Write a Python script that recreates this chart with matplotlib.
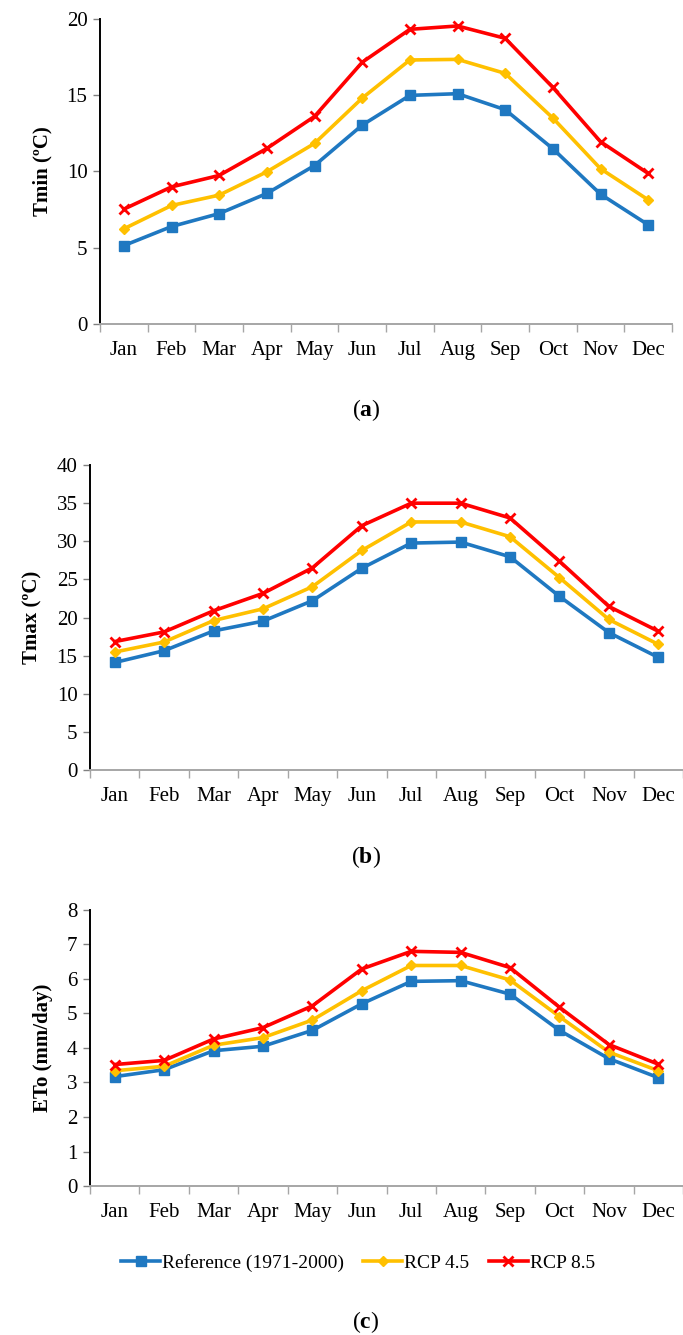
import numpy as np
import matplotlib
matplotlib.use("Agg")
import matplotlib.pyplot as plt
from matplotlib.lines import Line2D

plt.rcParams['font.family'] = ['Liberation Serif', 'DejaVu Serif']
plt.rcParams['mathtext.fontset'] = 'custom'
plt.rcParams['mathtext.rm'] = 'Liberation Serif'
plt.rcParams['mathtext.bf'] = 'Liberation Serif:bold'

months = ["Jan", "Feb", "Mar", "Apr", "May", "Jun",
          "Jul", "Aug", "Sep", "Oct", "Nov", "Dec"]

# Tmin (oC)
tmin_ref = [5.14, 6.39, 7.24, 8.56, 10.39, 13.04, 14.99, 15.10, 14.05, 11.49, 8.51, 6.50]
tmin_45 = [6.24, 7.77, 8.45, 9.98, 11.84, 14.81, 17.31, 17.35, 16.43, 13.50, 10.18, 8.14]
tmin_85 = [7.53, 8.99, 9.74, 11.51, 13.61, 17.16, 19.32, 19.54, 18.73, 15.51, 11.95, 9.87]

# Tmax (oC)
tmax_ref = [14.1, 15.65, 18.24, 19.52, 22.2, 26.46, 29.76, 29.89, 27.96, 22.77, 18.02, 14.77]
tmax_45 = [15.47, 16.79, 19.6, 21.14, 24.04, 28.79, 32.53, 32.53, 30.59, 25.23, 19.74, 16.48]
tmax_85 = [16.84, 18.11, 20.88, 23.16, 26.51, 32.04, 34.99, 34.99, 33.05, 27.38, 21.45, 18.2]

# ETo (mm/day)
eto_ref = [3.17, 3.37, 3.92, 4.05, 4.51, 5.28, 5.93, 5.95, 5.56, 4.51, 3.69, 3.14]
eto_45 = [3.34, 3.47, 4.08, 4.30, 4.81, 5.66, 6.39, 6.39, 5.97, 4.91, 3.88, 3.34]
eto_85 = [3.52, 3.64, 4.26, 4.59, 5.22, 6.29, 6.80, 6.77, 6.33, 5.18, 4.10, 3.53]

series_names = ["Reference (1971-2000)", "RCP 4.5", "RCP 8.5"]
colors = ["#1f78c1", "#ffc000", "#ff0000"]
markers = ["s", "D", "x"]
msizes = [7, 5, 7]

fig = plt.figure(figsize=(6.83, 13.35), dpi=100)

panels = [
    # rect, data, ylim, yticks, ylabel, tag, tag y
    ([0.1464, 0.7573, 0.8376, 0.2285], (tmin_ref, tmin_45, tmin_85), 20, np.arange(0, 21, 5),
     "Tmin (ºC)", "a", 0.6929),
    ([0.1318, 0.4232, 0.8682, 0.2285], (tmax_ref, tmax_45, tmax_85), 40, np.arange(0, 41, 5),
     "Tmax (ºC)", "b", 0.358),
    ([0.1318, 0.1116, 0.8682, 0.2068], (eto_ref, eto_45, eto_85), 8, np.arange(0, 9, 1),
     "ETo (mm/day)", "c", 0.0097),
]

x = np.arange(len(months)) + 0.5
for rect, data, ytop, yticks, ylab, tag, tag_y in panels:
    ax = fig.add_axes(rect)
    for vals, c, m, ms in zip(data, colors, markers, msizes):
        ax.plot(x, vals, color=c, lw=2.6, marker=m, ms=ms, mew=2 if m == "x" else 1,
                mfc=c, mec=c, solid_joinstyle='round')
    ax.set_xlim(0, 12)
    ax.set_ylim(0, ytop)
    ax.set_yticks(yticks)
    ax.set_yticklabels([str(v) for v in yticks], fontsize=15)
    ax.set_xticks(np.arange(0, 13))
    ax.set_xticklabels([])
    ax.set_xticks(x, minor=True)
    ax.set_xticklabels(months, minor=True, fontsize=15)
    ax.tick_params(axis='x', which='minor', length=0, pad=12)
    ax.tick_params(axis='x', which='major', length=6, color="#a6a6a6", width=1)
    ax.tick_params(axis='y', length=5, width=1, color="#808080", pad=4)
    ax.spines['top'].set_visible(False)
    ax.spines['right'].set_visible(False)
    ax.spines['left'].set_linewidth(1.4)
    ax.spines['left'].set_color("black")
    ax.spines['bottom'].set_color("#a6a6a6")
    ax.spines['bottom'].set_linewidth(1.4)
    ax.set_ylabel(ylab, fontsize=15, fontweight='bold', labelpad=10)
    fig.text(0.536, tag_y, r"($\mathbf{%s}$)" % tag, ha='center', va='center', fontsize=17)

handles = [Line2D([0], [0], color=c, lw=2.6, marker=m, ms=ms, mew=2 if m == "x" else 1,
                  mfc=c, mec=c) for c, m, ms in zip(colors, markers, msizes)]
fig.legend(handles, series_names, loc='center', bbox_to_anchor=(0.524, 0.054), ncol=3,
           frameon=False, fontsize=14, handlelength=2.0, handletextpad=0.1, columnspacing=1.0)

fig.savefig("out.png", dpi=100)
